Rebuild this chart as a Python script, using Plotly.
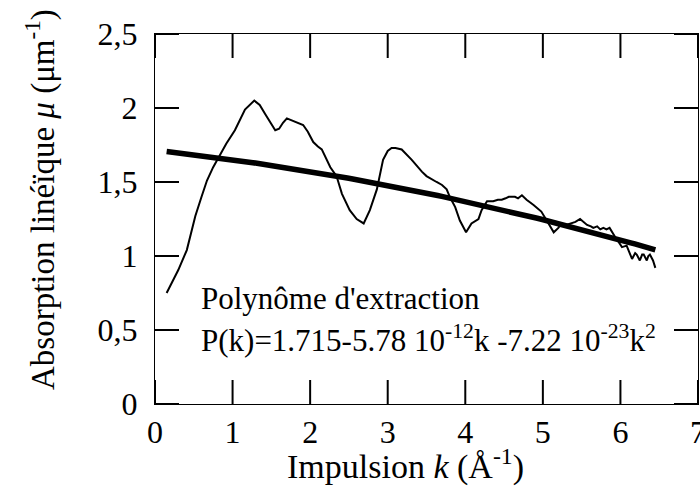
import numpy as np
import plotly.graph_objects as go

# Measured linear absorption versus wave number k (Å^-1)
k_meas = [0.15, 0.30, 0.41, 0.45, 0.52, 0.60, 0.67, 0.75, 0.84, 0.92, 1.03, 1.16,
          1.28, 1.35, 1.42, 1.50, 1.55, 1.60, 1.65, 1.70, 1.75, 1.80, 1.86, 1.91,
          1.97, 2.04, 2.10, 2.15, 2.26, 2.34, 2.41, 2.51, 2.60, 2.69, 2.77, 2.86,
          2.94, 3.00, 3.05, 3.10, 3.18, 3.31, 3.44, 3.50, 3.63, 3.70, 3.76, 3.80,
          3.87, 3.93, 4.01, 4.08, 4.17, 4.21, 4.28, 4.36, 4.42, 4.47, 4.52, 4.56,
          4.64, 4.68, 4.73, 4.79, 4.88, 4.98, 5.05, 5.14, 5.20, 5.24, 5.30, 5.35,
          5.42, 5.48, 5.53, 5.57, 5.62, 5.65, 5.70, 5.74, 5.78, 5.82, 5.86, 5.89,
          5.93, 5.97, 6.02, 6.08, 6.12, 6.15, 6.19, 6.21, 6.25, 6.28, 6.30, 6.34,
          6.36, 6.38, 6.42, 6.45]
mu_meas = [0.75, 0.905, 1.04, 1.13, 1.27, 1.40, 1.51, 1.60, 1.69, 1.76, 1.85, 1.99,
           2.05, 2.02, 1.96, 1.89, 1.85, 1.86, 1.90, 1.93, 1.92, 1.91, 1.90, 1.885,
           1.84, 1.77, 1.74, 1.72, 1.60, 1.54, 1.42, 1.31, 1.25, 1.22, 1.31, 1.45,
           1.65, 1.71, 1.73, 1.73, 1.72, 1.65, 1.57, 1.54, 1.50, 1.48, 1.45, 1.40,
           1.33, 1.24, 1.16, 1.22, 1.25, 1.31, 1.37, 1.37, 1.38, 1.38, 1.39, 1.40,
           1.40, 1.39, 1.41, 1.38, 1.345, 1.30, 1.24, 1.16, 1.19, 1.22, 1.21, 1.22,
           1.23, 1.25, 1.23, 1.21, 1.20, 1.19, 1.20, 1.18, 1.19, 1.18, 1.19, 1.16,
           1.13, 1.10, 1.06, 1.07, 1.02, 0.98, 1.02, 1.01, 0.97, 1.01, 1.01, 0.97,
           1.00, 1.01, 0.97, 0.92]

# Extraction polynomial coefficients (k expressed in m^-1)
c0 = 1.715
c1 = -5.78e-12
c2 = -7.22e-23
k_fit = np.linspace(0.15, 6.45, 120)
k_si = k_fit * 1e10
mu_fit = c0 + c1 * k_si + c2 * k_si ** 2

x_ticks = [0, 1, 2, 3, 4, 5, 6, 7]
y_ticks = [0, 0.5, 1, 1.5, 2, 2.5]
x_range = [0, 7]
y_range = [0, 2.5]

FONT = "Liberation Serif"
PLOT_W, PLOT_H = 543, 370   # plot area in pixels
TICK_PX = 24                # inward tick length in pixels

# Inward tick marks on all four sides, as one segmented line trace
dy = TICK_PX / PLOT_H * (y_range[1] - y_range[0])
dx = TICK_PX / PLOT_W * (x_range[1] - x_range[0])
tx, ty = [], []
for v in x_ticks:
    tx += [v, v, None, v, v, None]
    ty += [y_range[0], y_range[0] + dy, None, y_range[1], y_range[1] - dy, None]
for v in y_ticks:
    tx += [x_range[0], x_range[0] + dx, None, x_range[1], x_range[1] - dx, None]
    ty += [v, v, None, v, v, None]

fig = go.Figure()
fig.add_trace(go.Scatter(x=tx, y=ty, mode="lines", line=dict(color="black", width=2),
                         hoverinfo="skip", showlegend=False, cliponaxis=False))
fig.add_trace(go.Scatter(x=k_meas, y=mu_meas, mode="lines",
                         line=dict(color="black", width=2), showlegend=False))
fig.add_trace(go.Scatter(x=k_fit, y=mu_fit, mode="lines",
                         line=dict(color="black", width=5.5), showlegend=False))

axis_common = dict(
    showline=True, linecolor="black", linewidth=1, mirror=True,
    ticks="inside", ticklen=24, tickwidth=1, tickcolor="black",
    showgrid=False, zeroline=False, ticklabeloverflow="allow", automargin=False,
    tickfont=dict(family=FONT, size=32, color="black"),
)

fig.update_xaxes(range=x_range, tickvals=x_ticks, ticklabelstandoff=0, **axis_common)
fig.update_yaxes(range=y_range, tickvals=y_ticks, ticklabelstandoff=10, **axis_common)

fig.add_annotation(
    text="Impulsion <i>k</i> (Å<sup>-1</sup>)", xref="paper", yref="paper",
    x=(405 - 155) / 543, y=(404 - 464) / 370, xanchor="center", yanchor="middle",
    showarrow=False, font=dict(family=FONT, size=34, color="black"))
fig.add_annotation(
    text="Absorption linéïque <i>μ</i> (μm<sup>-1</sup>)", xref="paper", yref="paper",
    x=(40 - 155) / 543, y=(404 - 200) / 370, xanchor="center", yanchor="middle",
    textangle=-90, showarrow=False, font=dict(family=FONT, size=33, color="black"))
fig.add_annotation(
    text="Polynôme d'extraction", xref="x", yref="y",
    x=0.57, y=(404 - 298) / 148, xanchor="left", yanchor="middle",
    showarrow=False, font=dict(family=FONT, size=31, color="black"))
fig.add_annotation(
    text="P(k)=1.715-5.78 10<sup>-12</sup>k -7.22 10<sup>-23</sup>k<sup>2</sup>",
    xref="x", yref="y", x=0.57, y=(404 - 338) / 148, xanchor="left", yanchor="middle",
    showarrow=False, font=dict(family=FONT, size=31, color="black"))

fig.update_layout(
    width=700, height=487,
    margin=dict(l=155, r=2, t=34, b=83),
    plot_bgcolor="white", paper_bgcolor="white",
    separators=", ",
)

fig.write_html("out.html")
